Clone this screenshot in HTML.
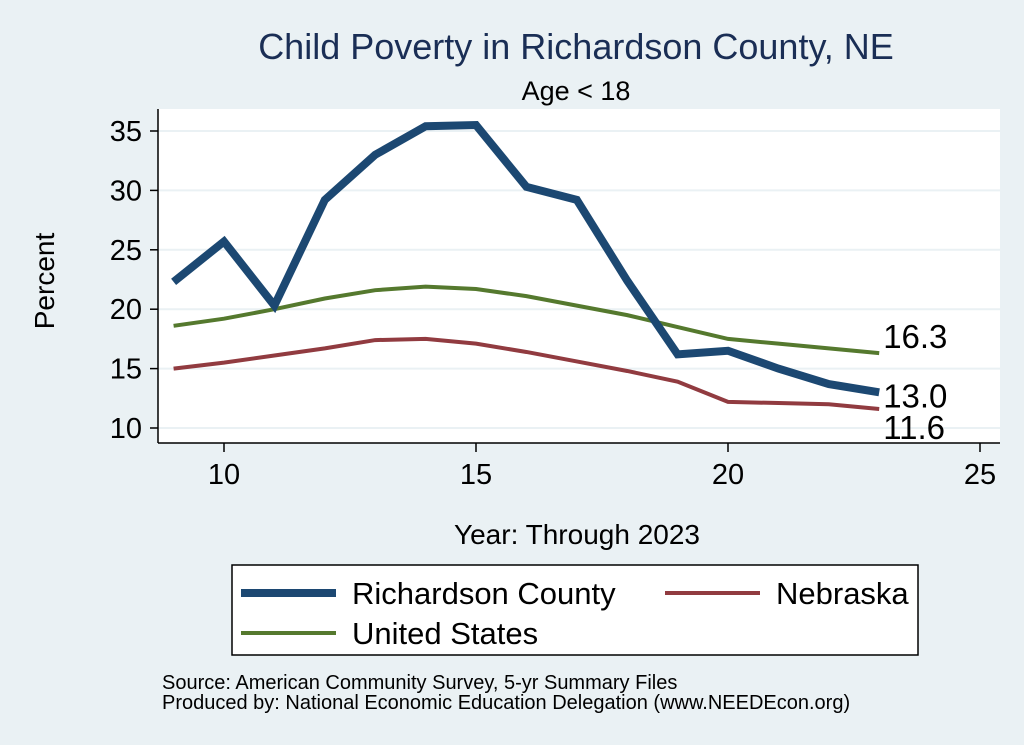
<!DOCTYPE html>
<html><head><meta charset="utf-8"><style>
body{margin:0;background:#eaf1f4;}
svg{display:block;font-family:"Liberation Sans",sans-serif;}
</style></head><body>
<svg width="1024" height="745" viewBox="0 0 1024 745">
<rect width="1024" height="745" fill="#eaf1f4"/>
<text x="576" y="59" font-size="36" fill="#1a2e55" text-anchor="middle">Child Poverty in Richardson County, NE</text>
<text x="576" y="100" font-size="27" fill="#000" text-anchor="middle">Age &lt; 18</text>
<rect x="158" y="109" width="842" height="334" fill="#fff"/>
<g id="grid"></g>
<g id="axes"></g>
<g id="series"></g>
<text x="54" y="281" font-size="28" text-anchor="middle" transform="rotate(-90 54 281)">Percent</text>
<text x="577" y="544" font-size="28" text-anchor="middle">Year: Through 2023</text>
<g>
<rect x="232" y="565" width="686" height="90" fill="#fff" stroke="#000" stroke-width="1.5"/>
<line x1="241" y1="593" x2="336" y2="593" stroke="#1c4872" stroke-width="8"/>
<text x="352" y="604" font-size="31">Richardson County</text>
<line x1="665" y1="593" x2="760" y2="593" stroke="#913b40" stroke-width="4"/>
<text x="776" y="604" font-size="31">Nebraska</text>
<line x1="241" y1="633" x2="336" y2="633" stroke="#55792e" stroke-width="4"/>
<text x="352" y="644" font-size="31">United States</text>
</g>
<text x="162" y="689" font-size="20">Source: American Community Survey, 5-yr Summary Files</text>
<text x="162" y="709" font-size="20">Produced by: National Economic Education Delegation (www.NEEDEcon.org)</text>
</svg>
<script>
const years=[9,10,11,12,13,14,15,16,17,18,19,20,21,22,23];
const richardson=[22.3,25.7,20.3,29.2,33.0,35.4,35.5,30.3,29.2,22.4,16.2,16.5,15.0,13.7,13.0];
const unitedStates=[18.6,19.2,20.0,20.9,21.6,21.9,21.7,21.1,20.3,19.5,18.5,17.5,17.1,16.7,16.3];
const nebraska=[15.0,15.5,16.1,16.7,17.4,17.5,17.1,16.4,15.6,14.8,13.9,12.2,12.1,12.0,11.6];
const xTicks=[10,15,20,25];
const yTicks=[10,15,20,25,30,35];
const NS="http://www.w3.org/2000/svg";
function X(v){return 224+(v-10)*50.4;}
function Y(v){return 428-(v-10)*11.88;}
function mk(t,a,p){const e=document.createElementNS(NS,t);for(const k in a)e.setAttribute(k,a[k]);p.appendChild(e);return e;}
const grid=document.getElementById('grid'),axes=document.getElementById('axes'),ser=document.getElementById('series');
yTicks.forEach(v=>{
 const g=mk('line',{x1:158,x2:1000,y1:Y(v),y2:Y(v),stroke:'#eaf1f4','stroke-width':2},grid);
 
 
 const t=mk('line',{x1:150,x2:158,y1:Y(v),y2:Y(v),stroke:'#000','stroke-width':1.5},axes);
 
 
 const l=mk('text',{x:142,y:Y(v)+10,'font-size':29,'text-anchor':'end'},axes);l.textContent=v;
 
 
});
xTicks.forEach(v=>{
 const t=mk('line',{x1:X(v),x2:X(v),y1:443,y2:452,stroke:'#000','stroke-width':1.5},axes);
 
 
 const l=mk('text',{x:X(v),y:484,'font-size':29,'text-anchor':'middle'},axes);l.textContent=v;
 
 
});
const ya=mk('line',{x1:158,x2:158,y1:109,y2:443,stroke:'#000','stroke-width':1.5},axes);


const xa=mk('line',{x1:158,x2:1000,y1:443,y2:443,stroke:'#000','stroke-width':1.5},axes);


function line(vals,color,w,name,ly){
 const p=mk('polyline',{points:vals.map((v,i)=>X(years[i])+','+Y(v)).join(' '),fill:'none',stroke:color,'stroke-width':w,'stroke-linejoin':'miter'},ser);
 
 
 const last=vals[vals.length-1];
 const t=mk('text',{x:X(years[years.length-1])+4,y:Y(last)+ly,'font-size':33},ser);t.textContent=last.toFixed(1);
 
 
}
line(nebraska,'#913b40',4,'nebraska-line',30);
line(unitedStates,'#55792e',4,'us-line',-5);
line(richardson,'#1c4872',8,'richardson-line',15);
</script>
</body></html>
